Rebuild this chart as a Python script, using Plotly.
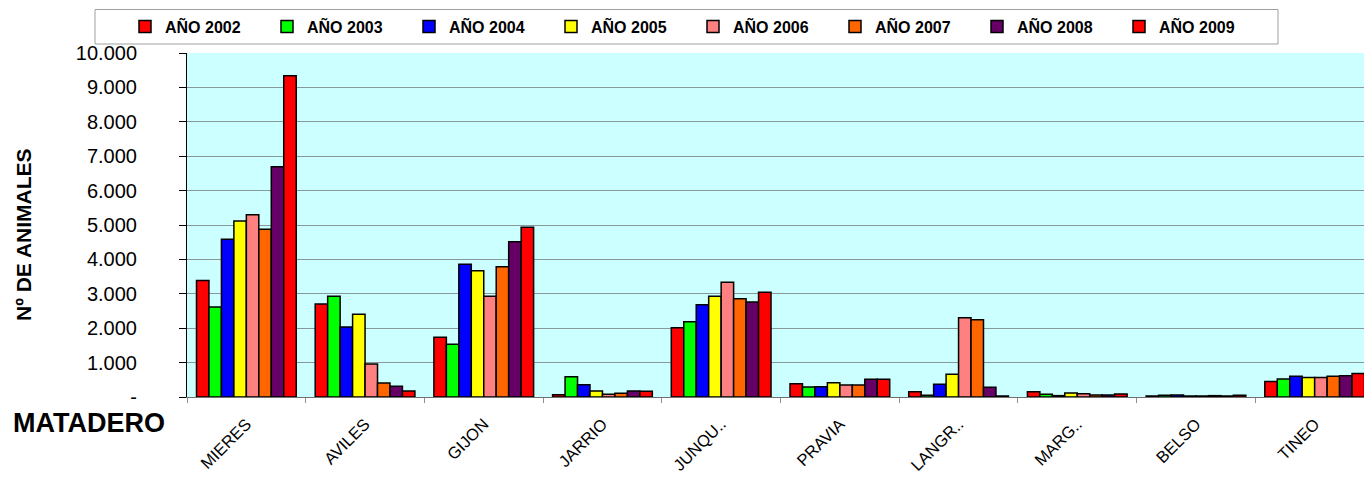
import plotly.graph_objects as go

categories = ["MIERES", "AVILES", "GIJON", "JARRIO", "JUNQU..", "PRAVIA",
              "LANGR..", "MARG..", "BELSO", "TINEO"]
series_names = ["AÑO 2002", "AÑO 2003", "AÑO 2004", "AÑO 2005",
                "AÑO 2006", "AÑO 2007", "AÑO 2008", "AÑO 2009"]

ano_2002 = [3390, 2700, 1735, 68, 2015, 387, 155, 155, 29, 454]
ano_2003 = [2616, 2927, 1531, 591, 2190, 291, 48, 77, 48, 523]
ano_2004 = [4584, 2035, 3857, 359, 2684, 300, 368, 39, 58, 600]
ano_2005 = [5116, 2404, 3672, 174, 2927, 416, 659, 116, 29, 570]
ano_2006 = [5300, 959, 2927, 77, 3334, 349, 2306, 97, 29, 570]
ano_2007 = [4875, 407, 3789, 107, 2858, 349, 2248, 58, 39, 600]
ano_2008 = [6695, 310, 4515, 174, 2762, 514, 281, 58, 29, 619]
ano_2009 = [9341, 174, 4933, 165, 3043, 514, 29, 87, 48, 686]

series_values = [ano_2002, ano_2003, ano_2004, ano_2005,
                 ano_2006, ano_2007, ano_2008, ano_2009]
colors = ["#FF0000", "#00FF00", "#0000FF", "#FFFF00",
          "#FF8080", "#FF6600", "#660066", "#FF0000"]

y_tickvals = [0, 1000, 2000, 3000, 4000, 5000, 6000, 7000, 8000, 9000, 10000]
y_ticktext = ["-", "1.000", "2.000", "3.000", "4.000", "5.000",
              "6.000", "7.000", "8.000", "9.000", "10.000"]

FONT = "Arial, Liberation Sans, sans-serif"

# page body has an 8px margin; layout below is in figure pixels
OFF = 8
W, H = 1372, 478
L, T = 187 - OFF, 53 - OFF
R = OFF
B = H - (397 - OFF)
PW = W - L - R
PH = H - T - B


def px_x(ref_px):
    return (ref_px - OFF - L) / PW


def px_y(ref_py):
    return (H - B - (ref_py - OFF)) / PH


fig = go.Figure()
for name, vals, col in zip(series_names, series_values, colors):
    fig.add_trace(go.Bar(
        x=categories, y=vals, name=name,
        marker=dict(color=col, line=dict(color="black", width=1.5)),
    ))

fig.update_layout(
    width=W, height=H,
    margin=dict(l=L, r=R, t=T, b=B, pad=0, autoexpand=False),
    paper_bgcolor="white",
    plot_bgcolor="#CCFFFF",
    barmode="group",
    bargap=0.16,
    bargroupgap=0,
    font=dict(family=FONT, color="black"),
    showlegend=True,
    legend=dict(
        orientation="h",
        x=px_x(125), xanchor="left",
        y=px_y(26.5), yanchor="middle",
        font=dict(family=FONT, size=16, color="black", weight="bold"),
        entrywidth=97, entrywidthmode="pixels",
        bgcolor="rgba(0,0,0,0)",
        borderwidth=0,
        traceorder="normal",
    ),
    xaxis=dict(
        range=[-0.5, 9.483],
        tickangle=-45,
        tickfont=dict(family=FONT, size=16.5, color="black"),
        showline=True, linecolor="#707070", linewidth=1,
        ticks="outside", ticklen=5, tickcolor="#909090",
        tickson="boundaries",
        ticklabelstandoff=10,
        showgrid=False,
        zeroline=False,
        automargin=False,
    ),
    yaxis=dict(
        range=[0, 10000],
        tickvals=y_tickvals, ticktext=y_ticktext,
        tickfont=dict(family=FONT, size=20, color="black"),
        showline=True, linecolor="black", linewidth=1,
        ticks="outside", ticklen=7, tickcolor="black",
        ticklabelstandoff=38,
        showgrid=True, gridcolor="#889999", gridwidth=1,
        zeroline=False,
        automargin=False,
    ),
    shapes=[dict(
        type="rect", xref="paper", yref="paper",
        x0=px_x(95), x1=px_x(1278), y0=px_y(44), y1=px_y(9.5),
        line=dict(color="#A0A0A0", width=1), fillcolor="rgba(0,0,0,0)",
        layer="above",
    )],
    annotations=[
        dict(text="<b>Nº DE ANIMALES</b>", xref="paper", yref="paper",
             x=px_x(23), y=px_y(235), xanchor="center", yanchor="middle",
             textangle=-90, showarrow=False,
             font=dict(family=FONT, size=21, color="black")),
        dict(text="<b>MATADERO</b>", xref="paper", yref="paper",
             x=px_x(11), y=px_y(423), xanchor="left", yanchor="middle",
             showarrow=False,
             font=dict(family=FONT, size=27, color="black")),
    ],
)

fig.write_html("out.html")
